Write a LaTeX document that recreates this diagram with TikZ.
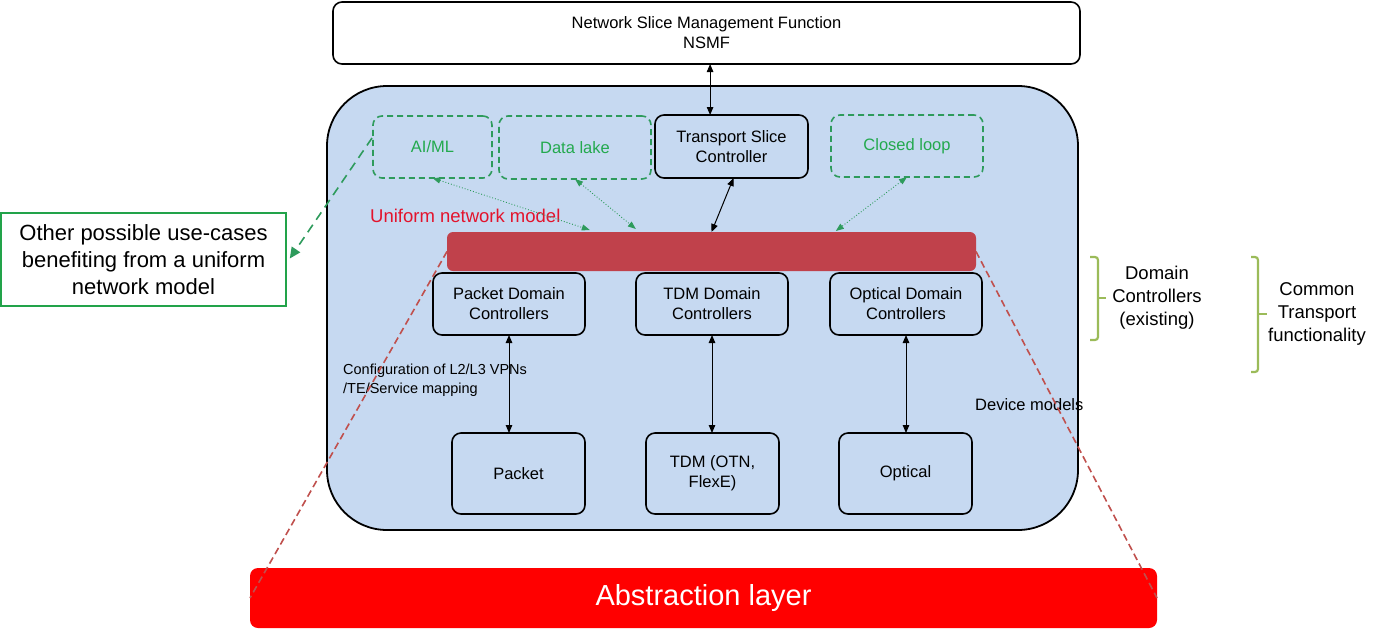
\documentclass[tikz,border=0pt]{standalone}
\usepackage{fontspec}
\setmainfont{Liberation Sans}
\usetikzlibrary{arrows.meta,calc}
\definecolor{boxblue}{HTML}{C6D9F1}
\definecolor{gtext}{HTML}{23A94E}
\definecolor{gdash}{HTML}{2E9B5C}
\definecolor{gother}{HTML}{22A34A}
\definecolor{olive}{HTML}{9BBB59}
\definecolor{barred}{HTML}{C0414B}
\definecolor{redtext}{HTML}{E3132C}
\definecolor{dashred}{HTML}{C0504D}
\definecolor{absred}{HTML}{FF0000}
\tikzset{
  txt/.style={font=\fontsize{16.5}{20}\selectfont},
  blackbox/.style={draw=black, line width=1.6pt, rounded corners=9pt, inner sep=0pt, outer sep=0pt, align=center, txt},
  greenbox/.style={draw=gdash, dashed, dash pattern=on 6pt off 4pt, line width=1.6pt, rounded corners=9pt, inner sep=0pt, outer sep=0pt, align=center, txt, text=gtext},
  dblarrow/.style={line width=1pt, {Triangle[length=8pt,width=6.5pt]}-{Triangle[length=8pt,width=6.5pt]}},
  dotarrow/.style={gdash, line width=0.9pt, dotted, {Triangle[length=8pt,width=6pt]}-{Triangle[length=8pt,width=6pt]}},
  bracestyle/.style={olive, line width=2.2pt, rounded corners=3pt},
  bracetext/.style={align=center, font=\fontsize{18.5}{23}\selectfont},
  projline/.style={dashred, line width=1.6pt, dash pattern=on 7pt off 4pt},
}
\begin{document}
\begin{tikzpicture}[x=1pt,y=-1pt]
\path[use as bounding box, fill=white] (0,0) rectangle (1376,633);

% NSMF
\node[blackbox, fill=white, minimum width=747pt, minimum height=62pt] (nsmf) at (706.5,33) {Network Slice Management Function\\NSMF};

% big box
\node[draw=black, line width=1.8pt, fill=boxblue, rounded corners=60pt, minimum width=751pt, minimum height=444pt, inner sep=0pt] (big) at (702.5,308) {};

% top row
\node[greenbox, minimum width=119pt, minimum height=62pt] (aiml) at (432.5,147) {AI/ML};
\node[greenbox, minimum width=152pt, minimum height=63pt] (lake) at (575,147.5) {Data lake};
\node[blackbox, minimum width=153pt, minimum height=63pt] (tsc) at (731.5,146.5) {Transport Slice\\Controller};
\node[greenbox, minimum width=152pt, minimum height=62pt] (loop) at (907,146) {Closed loop};

% uniform bar
\node[anchor=west, text=redtext, font=\fontsize{18.5}{22}\selectfont, inner sep=0pt] (unilabel) at (370,216) {Uniform network model};
\node[fill=barred, rounded corners=6pt, minimum width=529pt, minimum height=39pt, inner sep=0pt, outer sep=0pt] (bar) at (711.5,251.5) {};

% domain controllers
\node[blackbox, minimum width=152pt, minimum height=62pt] (pdc) at (509,304) {Packet Domain\\Controllers};
\node[blackbox, minimum width=152pt, minimum height=62pt] (tdc) at (712,304) {TDM Domain\\Controllers};
\node[blackbox, minimum width=152pt, minimum height=62pt] (odc) at (906,304) {Optical Domain\\Controllers};

% devices
\node[blackbox, minimum width=133pt, minimum height=81pt] (packet) at (518.5,473.5) {Packet};
\node[blackbox, minimum width=133pt, minimum height=81pt] (tdm) at (712.5,473.5) {TDM (OTN,\\FlexE)};
\node[blackbox, minimum width=133pt, minimum height=81pt] (optical) at (905.5,473.5) {Optical};

% labels
\node[anchor=west, align=left, inner sep=0pt, font=\fontsize{14.5}{19}\selectfont] (cfg) at (343,380.5) {Configuration of L2/L3 VPNs\\/TE/Service mapping};
\node[anchor=west, inner sep=0pt, txt] (devm) at (975,405) {Device models};

% arrows
\coordinate (nsmfpt) at ($(tsc.north west)!0.36!(tsc.north east)$);
\draw[dblarrow] (nsmfpt |- nsmf.south) -- (nsmfpt);
\draw[dblarrow] ($(tsc.south)+(2,0)$) -- (bar.north);
\draw[dblarrow] (pdc.south) -- (pdc.south |- packet.north);
\draw[dblarrow] (tdc.south) -- (tdc.south |- tdm.north);
\draw[dblarrow] (odc.south) -- (odc.south |- optical.north);

\draw[dotarrow] (aiml.south) -- ($(bar.north west)!0.27!(bar.north east)+(0,-2)$);
\draw[dotarrow] (lake.south) -- ($(bar.north west)!0.357!(bar.north east)+(0,-3)$);
\draw[dotarrow] (loop.south) -- ($(bar.north west)!0.735!(bar.north east)+(0,-1)$);

% other use-cases
\node[draw=gother, line width=1.6pt, fill=white, minimum width=285pt, minimum height=93pt, inner sep=0pt, align=center, font=\fontsize{22}{27}\selectfont] (other) at (143.5,259.5) {Other possible use-cases\\benefiting from a uniform\\network model};
\draw[gdash, line width=1.6pt, dash pattern=on 9pt off 6pt, -{Triangle[length=11pt,width=10pt]}] ($(aiml.west)+(-1,-9)$) -- ($(other.east)+(3,-1)$);

% abstraction layer
\node[fill=absred, rounded corners=8pt, minimum width=907pt, minimum height=60pt, inner sep=0pt, outer sep=0pt, text=white, font=\fontsize{29}{34}\selectfont] (abs) at (703.5,598) {Abstraction layer};

% red dashed projection lines
\draw[projline] (bar.west) -- (abs.west);
\draw[projline] (bar.east) -- (abs.east);

% braces
\draw[bracestyle] (1090,257) -- (1098,257) -- (1098,340) -- (1090,340);
\draw[olive, line width=2.2pt] (1098,298) -- (1106,298);
\node[bracetext] (dctext) at (1157,298) {Domain\\Controllers\\(existing)};
\draw[bracestyle] (1251,257) -- (1258,257) -- (1258,372) -- (1251,372);
\draw[olive, line width=2.2pt] (1258,314) -- (1267,314);
\node[bracetext] (cttext) at (1317,314) {Common\\Transport\\functionality};
\end{tikzpicture}
\end{document}
